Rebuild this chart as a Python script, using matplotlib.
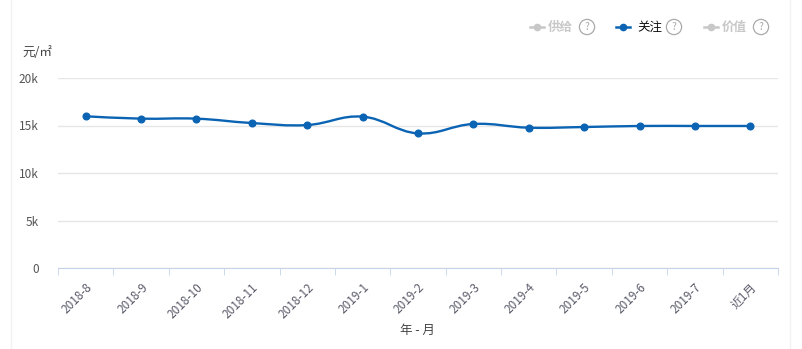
import matplotlib
matplotlib.use("Agg")
import matplotlib.pyplot as plt
import numpy as np
from matplotlib.path import Path
from matplotlib.patches import PathPatch
from matplotlib.lines import Line2D

plt.rcParams["font.family"] = ["Noto Sans CJK SC", "DejaVu Sans"]

months = ["2018-8", "2018-9", "2018-10", "2018-11", "2018-12", "2019-1", "2019-2",
          "2019-3", "2019-4", "2019-5", "2019-6", "2019-7", "近1月"]
attention = [15970, 15720, 15720, 15260, 15050, 15930, 14170,
             15160, 14770, 14840, 14950, 14950, 14950]
yticks = [0, 5000, 10000, 15000, 20000]
ytick_labels = ["0", "5k", "10k", "15k", "20k"]
legend_names = ["供给", "关注", "价值"]

W, H = 802, 349
BLUE = "#0b64b3"
GRAY_TXT = "#555555"

fig = plt.figure(figsize=(W / 100, H / 100), dpi=100)
ax = fig.add_axes([58 / W, 1 - 268 / H, 720 / W, 190 / H])

x = np.arange(len(months))
y = np.asarray(attention, dtype=float)

# smooth curve like echarts: cubic bezier through the points
s = 0.2
verts = [(x[0], y[0])]
codes = [Path.MOVETO]
for i in range(len(x) - 1):
    p0 = np.array([x[max(i - 1, 0)], y[max(i - 1, 0)]])
    p1 = np.array([x[i], y[i]])
    p2 = np.array([x[i + 1], y[i + 1]])
    p3 = np.array([x[min(i + 2, len(x) - 1)], y[min(i + 2, len(x) - 1)]])
    c1 = p1 + (p2 - p0) * s
    c2 = p2 - (p3 - p1) * s
    verts += [tuple(c1), tuple(c2), tuple(p2)]
    codes += [Path.CURVE4] * 3
ax.add_patch(PathPatch(Path(verts, codes), facecolor="none", edgecolor=BLUE, lw=1.7, zorder=3))
ax.plot(x, y, "o", color=BLUE, ms=4.8, zorder=4)

ax.set_xlim(-0.5, len(months) - 0.5)
ax.set_ylim(0, 20000)
ax.set_yticks(yticks)
ax.set_yticklabels(ytick_labels)
ax.yaxis.grid(True, color="#e6e6e6", lw=1)
ax.set_axisbelow(True)
for side in ["top", "right", "left"]:
    ax.spines[side].set_visible(False)
ax.spines["bottom"].set_color("#c5d2e8")
ax.tick_params(axis="y", length=0, pad=14, labelsize=8.5, labelcolor=GRAY_TXT)

ax.set_xticks(np.arange(len(months) + 1) - 0.5, minor=True)
ax.set_xticks(x)
ax.set_xticklabels(months, rotation=45, ha="right", va="top", rotation_mode="anchor")
ax.tick_params(axis="x", which="major", length=0, pad=9, labelsize=8.5, labelcolor="#5a5a6a")
ax.tick_params(axis="x", which="minor", length=5, color="#c5d2e8")

fig.text(417 / W, 1 - 330 / H, "年 - 月", ha="center", va="center", fontsize=9, color="#444444")
fig.text(22 / W, 1 - 53 / H, "元/㎡", ha="left", va="center", fontsize=9, color="#444444")

# legend at top right
items = [(530, 548, 587, "#c8c8c8", "#c8c8c8"),
         (616, 637, 674, BLUE, "#111111"),
         (704, 722, 761, "#c8c8c8", "#c8c8c8")]
ly = 1 - 27 / H
for (lx, tx, qx, lc, tc), name in zip(items, legend_names):
    fig.add_artist(Line2D([lx / W, (lx + 14) / W], [ly, ly], color=lc, lw=1.8))
    fig.add_artist(Line2D([(lx + 7) / W], [ly], color=lc, marker="o", ms=4.5))
    fig.text(tx / W, ly, name, ha="left", va="center", fontsize=9, color=tc,
             fontweight="bold" if tc != "#111111" else "normal")
    fig.text(qx / W, ly, "?", ha="center", va="center", fontsize=7.5, color="#aaaaaa",
             bbox=dict(boxstyle="circle,pad=0.25", fc="white", ec="#aaaaaa", lw=0.9))

# faint container borders
fig.add_artist(Line2D([11 / W, 11 / W], [0, 1], color="#f2f2f2", lw=1))
fig.add_artist(Line2D([790 / W, 790 / W], [0, 1], color="#f2f2f2", lw=1))

fig.savefig("out.png", dpi=100)
